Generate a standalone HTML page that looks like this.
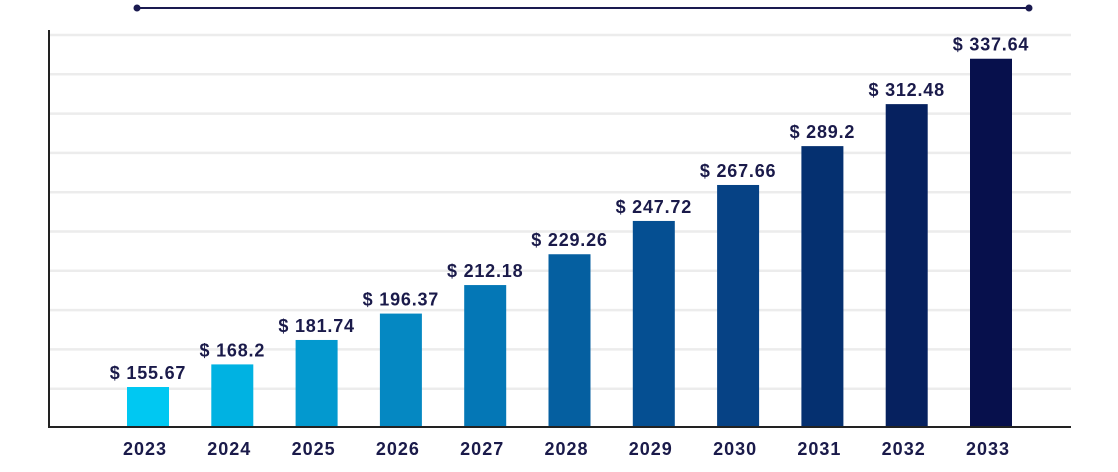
<!DOCTYPE html>
<html><head><meta charset="utf-8"><style>
body{margin:0;background:#fff;width:1118px;height:467px;overflow:hidden;font-family:"Liberation Sans",sans-serif}
</style></head><body>
<svg id="chart" width="1118" height="467" xmlns="http://www.w3.org/2000/svg">
<line x1="137" y1="8" x2="1029" y2="8" stroke="#1a1a50" stroke-width="2"/>
<circle cx="137" cy="8" r="3.5" fill="#1a1a50"/>
<circle cx="1029" cy="8" r="3.5" fill="#1a1a50"/>
<g id="grid"></g><g id="bars"></g>
<line x1="49" y1="30" x2="49" y2="428" stroke="#222" stroke-width="2"/>
<line x1="48" y1="427" x2="1071" y2="427" stroke="#222" stroke-width="2"/>
</svg>
<script>
const categories=["2023","2024","2025","2026","2027","2028","2029","2030","2031","2032","2033"];
const values=[155.67,168.2,181.74,196.37,212.18,229.26,247.72,267.66,289.2,312.48,337.64];
const labels=["$ 155.67","$ 168.2","$ 181.74","$ 196.37","$ 212.18","$ 229.26","$ 247.72","$ 267.66","$ 289.2","$ 312.48","$ 337.64"];
const colors=["#00c8f2","#00b2e2","#0399cf","#0588c2","#0477b6","#055fa0","#054f92","#064285","#053070","#06215f","#07104c"];
const NS="http://www.w3.org/2000/svg";
const base=427, k=1.804, v0=133.5;
function y(v){return base-(v-v0)*k;}
function x(i){return 148+i*84.3;}
const grid=document.getElementById('grid'), bars=document.getElementById('bars');
for(let j=0;j<10;j++){
  const l=document.createElementNS(NS,'line');
  const gy=35+j*39.3;
  l.setAttribute('x1',50);l.setAttribute('x2',1071);l.setAttribute('y1',gy);l.setAttribute('y2',gy);
  l.setAttribute('stroke','#ececec');l.setAttribute('stroke-width','2.5');
  
  
  grid.appendChild(l);
}
categories.forEach((c,i)=>{
  const r=document.createElementNS(NS,'rect');
  const top=y(values[i]);
  r.setAttribute('x',x(i)-21);r.setAttribute('width',42);r.setAttribute('y',top);r.setAttribute('height',base-top);
  r.setAttribute('fill',colors[i]);
  
  
  bars.appendChild(r);
  const t=document.createElementNS(NS,'text');
  t.setAttribute('x',x(i));t.setAttribute('y',top-8);t.setAttribute('text-anchor','middle');
  t.setAttribute('font-size','18');t.setAttribute('font-weight','bold');t.setAttribute('fill','#1a1a4a');
  t.setAttribute('letter-spacing','0.8');
  t.textContent=labels[i];
  
  
  bars.appendChild(t);
  const xl=document.createElementNS(NS,'text');
  xl.setAttribute('x',x(i)-3);xl.setAttribute('y',455);xl.setAttribute('text-anchor','middle');
  xl.setAttribute('font-size','18');xl.setAttribute('font-weight','bold');xl.setAttribute('fill','#1a1a4a');
  xl.setAttribute('letter-spacing','1');
  xl.textContent=c;
  
  
  bars.appendChild(xl);
});
</script>
</body></html>
